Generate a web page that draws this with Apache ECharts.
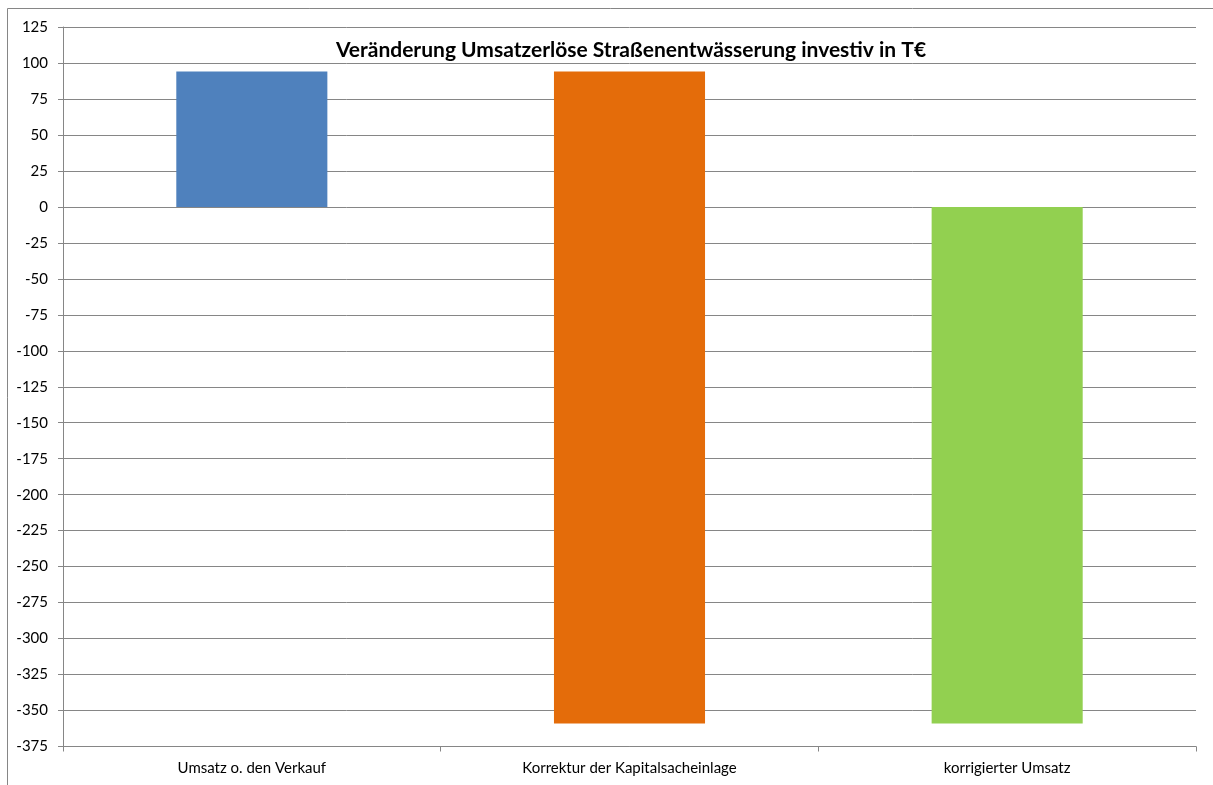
<!DOCTYPE html>
<html>
<head>
<meta charset="utf-8">
<script src="https://cdn.jsdelivr.net/npm/echarts@6/dist/echarts.min.js"></script>
<style>html,body{margin:0;padding:0;background:#fff;}#c{width:1213px;height:785px;}</style>
</head>
<body>
<div id="c"></div>
<script>
const titleText = 'Veränderung Umsatzerlöse Straßenentwässerung investiv in T€';
const categories = ['Umsatz o. den Verkauf', 'Korrektur der Kapitalsacheinlage', 'korrigierter Umsatz'];
// each bar spans from barBottom to barTop (waterfall)
const barTop = [94, 94, 0];
const barBottom = [0, -359, -359];
const barColors = ['#4F81BD', '#E46C0A', '#92D050'];
const yTicks = { min: -375, max: 125, interval: 25 };

const font = 'Lato, "Open Sans", sans-serif';
const chart = echarts.init(document.getElementById('c'), null, { renderer: 'canvas' });
const mk = arr => arr.map((v, i) => ({ value: v, itemStyle: { color: barColors[i] } }));
chart.setOption({
  animation: false,
  backgroundColor: '#fff',
  title: {
    text: titleText, left: 631, textAlign: 'center', top: 40, padding: 0,
    textStyle: { fontFamily: font, fontWeight: 'bold', fontSize: 21, color: '#000' }
  },
  graphic: [{
    type: 'rect', silent: true, z: -1,
    shape: { x: 7.5, y: 8.5, width: 1400, height: 1000 },
    style: { fill: 'none', stroke: '#868686', lineWidth: 1 }
  }],
  grid: { left: 63, right: 17, top: 27, bottom: 38.5, containLabel: false },
  xAxis: {
    type: 'category', data: categories,
    axisLine: { onZero: false, lineStyle: { color: '#868686' } },
    axisTick: { show: true, length: 5, lineStyle: { color: '#868686' } },
    axisLabel: { fontFamily: font, fontSize: 15, color: '#000', margin: 14, interval: 0 }
  },
  yAxis: {
    type: 'value', min: yTicks.min, max: yTicks.max, interval: yTicks.interval,
    axisLine: { show: true, lineStyle: { color: '#868686' } },
    axisTick: { show: true, length: 5, lineStyle: { color: '#868686' } },
    axisLabel: { fontFamily: font, fontSize: 15, color: '#000', margin: 15 },
    splitLine: { lineStyle: { color: '#868686', width: 1 } }
  },
  series: [
    { type: 'bar', stack: 'w', barWidth: '40%', data: mk(barTop) },
    { type: 'bar', stack: 'w', barWidth: '40%', data: mk(barBottom) }
  ]
});
</script>
</body>
</html>
